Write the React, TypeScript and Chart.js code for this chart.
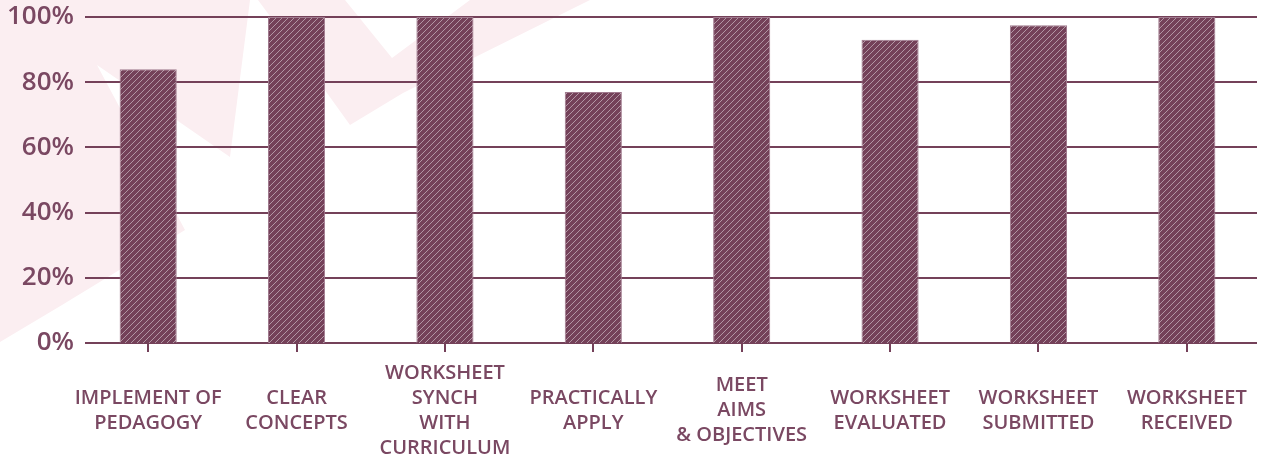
import React, { useEffect, useRef } from 'react';
import { Chart, registerables } from 'chart.js';

Chart.register(...registerables);

const categories: string[][] = [
  ['IMPLEMENT OF', 'PEDAGOGY'],
  ['CLEAR', 'CONCEPTS'],
  ['WORKSHEET', 'SYNCH', 'WITH', 'CURRICULUM'],
  ['PRACTICALLY', 'APPLY'],
  ['MEET', 'AIMS', '& OBJECTIVES'],
  ['WORKSHEET', 'EVALUATED'],
  ['WORKSHEET', 'SUBMITTED'],
  ['WORKSHEET', 'RECEIVED'],
];
const values: number[] = [84, 100, 100, 77, 100, 93, 97.5, 100];
const yTickValues: number[] = [0, 20, 40, 60, 80, 100];

const MAROON = '#744159';
const TEXT = '#7a4862';
const FONT = "'Open Sans', 'Noto Sans', sans-serif";

// faint background logo shapes (decoration only)
const watermark: number[][][] = [
  [[0, 0], [250, 0], [230, 157], [97, 65], [185, 230], [62, 305], [0, 342]],
  [[258, 0], [345, 0], [392, 58], [470, 0], [590, 0], [403, 93], [350, 125], [327, 93]],
];

function makeHatch(): CanvasPattern | string {
  const c = document.createElement('canvas');
  const s = 6;
  c.width = s;
  c.height = s;
  const g = c.getContext('2d');
  if (!g) return MAROON;
  g.fillStyle = MAROON;
  g.fillRect(0, 0, s, s);
  g.strokeStyle = 'rgba(255,255,255,0.45)';
  g.lineWidth = 1;
  g.beginPath();
  g.moveTo(0, s); g.lineTo(s, 0);
  g.moveTo(-1, 1); g.lineTo(1, -1);
  g.moveTo(s - 1, s + 1); g.lineTo(s + 1, s - 1);
  g.stroke();
  const p = g.createPattern(c, 'repeat');
  return p || MAROON;
}

const bgPlugin = {
  id: 'bgWatermark',
  beforeDraw(chart: any) {
    const ctx = chart.ctx;
    ctx.save();
    ctx.fillStyle = '#fbeef1';
    for (const poly of watermark) {
      ctx.beginPath();
      poly.forEach(([x, y], i) => (i === 0 ? ctx.moveTo(x, y) : ctx.lineTo(x, y)));
      ctx.closePath();
      ctx.fill();
    }
    ctx.restore();
  },
};

const gridPlugin = {
  id: 'customGrid',
  beforeDatasetsDraw(chart: any) {
    const ctx = chart.ctx;
    const y = chart.scales.y;
    const { left, right } = chart.chartArea;
    ctx.save();
    ctx.strokeStyle = MAROON;
    ctx.lineWidth = 2;
    for (const v of yTickValues) {
      const py = Math.round(y.getPixelForValue(v));
      ctx.beginPath();
      ctx.moveTo(left + 11, py);
      ctx.lineTo(right - 4, py);
      ctx.stroke();
    }
    ctx.restore();
  },
};

export default function App() {
  const ref = useRef<HTMLCanvasElement | null>(null);

  useEffect(() => {
    if (!ref.current) return;
    const hatch = makeHatch();
    const chart = new Chart(ref.current, {
      type: 'bar',
      data: {
        labels: categories as any,
        datasets: [
          {
            data: values,
            backgroundColor: hatch as any,
            borderColor: '#a07a8e',
            borderWidth: 1,
            categoryPercentage: 1,
            barPercentage: 0.385,
          },
        ],
      },
      plugins: [bgPlugin, gridPlugin],
      options: {
        animation: false,
        responsive: true,
        maintainAspectRatio: false,
        layout: { padding: { top: 17, right: 18, left: 0, bottom: 0 } },
        plugins: {
          legend: { display: false },
          tooltip: { enabled: false },
        },
        scales: {
          x: {
            offset: true,
            afterFit: (s: any) => {
              s.height = 115;
            },
            grid: {
              display: true,
              offset: false,
              drawOnChartArea: false,
              drawTicks: true,
              tickLength: 9,
              color: MAROON,
              lineWidth: 2,
            },
            border: { display: false },
            ticks: {
              color: TEXT,
              padding: 21,
              maxRotation: 0,
              autoSkip: false,
              crossAlign: 'center' as any,
              font: { family: FONT, size: 20, weight: 600 as any, lineHeight: 1.25 },
            },
          },
          y: {
            min: 0,
            max: 100,
            afterFit: (s: any) => {
              s.width = 74;
            },
            grid: { display: false, drawTicks: false },
            border: { display: false },
            afterBuildTicks: (s: any) => {
              s.ticks = yTickValues.map((v) => ({ value: v }));
            },
            ticks: {
              color: TEXT,
              padding: 0,
              callback: (v: any) => `${v}%`,
              font: { family: FONT, size: 26, weight: 600 as any },
            },
          },
        },
      },
    });
    return () => chart.destroy();
  }, []);

  return (
    <div style={{ position: 'absolute', left: 0, top: 0, width: 1279, height: 458, background: '#fff' }}>
      <canvas ref={ref} />
    </div>
  );
}
